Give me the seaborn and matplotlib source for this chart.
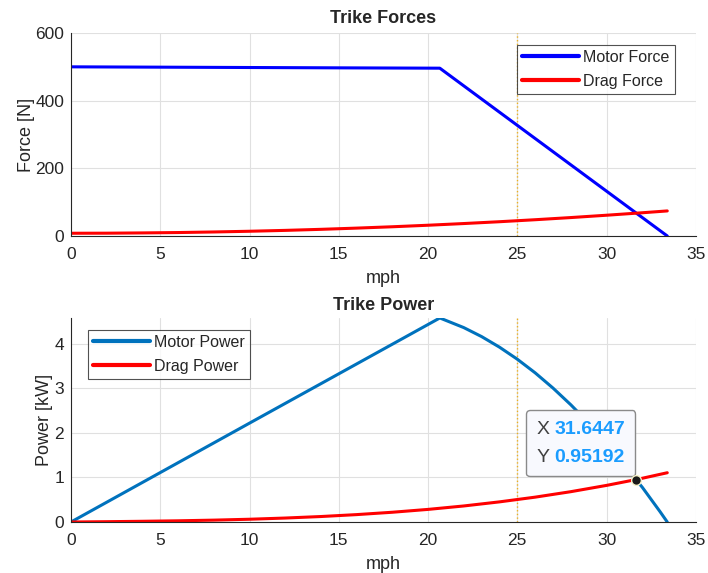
import matplotlib
matplotlib.use("Agg")
import matplotlib.pyplot as plt
import seaborn as sns
from matplotlib.offsetbox import AnnotationBbox, HPacker, TextArea, VPacker

# speeds in mph
motor_force_mph = [0, 5, 10, 15, 20.66, 33.4]
motor_force_n = [500, 499, 498, 497, 496, 0]

drag_mph = [0, 2, 4, 6, 8, 10, 12, 14, 16, 18, 20, 22, 24, 26, 28, 30, 31.6447, 32, 33.4]
drag_force_n = [8.0, 8.2, 9.0, 10.1, 11.8, 13.9, 16.5, 19.6, 23.2, 27.2, 31.7, 36.7,
                42.1, 48.0, 54.4, 61.3, 67.3, 68.6, 74.0]
drag_power_kw = [0, 0.007, 0.016, 0.027, 0.042, 0.062, 0.089, 0.123, 0.166, 0.219, 0.283,
                 0.360, 0.452, 0.558, 0.681, 0.822, 0.952, 0.982, 1.106]

motor_power_mph = [0, 10, 20.66, 22, 23, 24, 25, 26, 27, 28, 29, 30, 31, 31.6447, 32, 33, 33.4]
motor_power_kw = [0, 2.22, 4.581, 4.365, 4.163, 3.926, 3.655, 3.349, 3.007, 2.631, 2.221,
                  1.775, 1.295, 0.952, 0.780, 0.230, 0]

tip_x = 31.6447
tip_y = 0.95192
limit_mph = 25

sns.set_style("white")
plt.rcParams["font.family"] = ["Liberation Sans", "DejaVu Sans"]
txt = "#262626"

fig = plt.figure(figsize=(7.08, 5.73), dpi=100)
ax1 = fig.add_axes([0.1003, 0.5882, 0.8825, 0.3542])
ax2 = fig.add_axes([0.1003, 0.0890, 0.8825, 0.3560])

sns.lineplot(x=motor_force_mph, y=motor_force_n, ax=ax1, color="#0000ff", linewidth=2.2,
             label="Motor Force")
sns.lineplot(x=drag_mph, y=drag_force_n, ax=ax1, color="#ff0000", linewidth=2.2,
             label="Drag Force")

sns.lineplot(x=motor_power_mph, y=motor_power_kw, ax=ax2, color="#0072bd", linewidth=2.2,
             label="Motor Power")
sns.lineplot(x=drag_mph, y=drag_power_kw, ax=ax2, color="#ff0000", linewidth=2.2,
             label="Drag Power")

for ax in (ax1, ax2):
    ax.axvline(limit_mph, color="#edb120", linestyle=":", linewidth=1.0, zorder=1)
    ax.set_xlim(0, 35)
    ax.set_xticks(range(0, 36, 5))
    ax.grid(True, color="#e0e0e0", linewidth=0.8)
    ax.set_axisbelow(True)
    for s in ("top", "right"):
        ax.spines[s].set_visible(False)
    for s in ("left", "bottom"):
        ax.spines[s].set_color(txt)
        ax.spines[s].set_linewidth(0.8)
    ax.tick_params(direction="in", length=4, width=0.8, colors=txt, labelsize=12.5,
                   labelcolor=txt)
    ax.tick_params(axis="x", pad=8)
    ax.tick_params(axis="y", pad=5)
    ax.set_xlabel("mph", fontsize=13, color=txt, labelpad=6)

ax1.set_ylim(0, 600)
ax1.set_yticks([0, 200, 400, 600])
ax1.set_ylabel("Force [N]", fontsize=13, color=txt, labelpad=0)
ax1.set_title("Trike Forces", fontsize=13, fontweight="bold", pad=7)

ax2.set_ylim(0, 4.58)
ax2.set_yticks([0, 1, 2, 3, 4])
ax2.set_ylabel("Power [kW]", fontsize=13, color=txt, labelpad=1)
ax2.set_title("Trike Power", fontsize=13, fontweight="bold", pad=6)

leg_kw = dict(fontsize=11.5, frameon=True, fancybox=False, edgecolor="#262626",
              handlelength=3.6, borderpad=0.3, labelspacing=0.55, handletextpad=0.25,
              borderaxespad=0)
leg1 = ax1.legend(loc="upper right", bbox_to_anchor=(0.966, 0.94), **leg_kw)
leg1.get_frame().set_linewidth(0.8)
leg2 = ax2.legend(loc="upper left", bbox_to_anchor=(0.027, 0.94), **leg_kw)
leg2.get_frame().set_linewidth(0.8)
for leg in (leg1, leg2):
    for h in leg.get_lines():
        h.set_linewidth(3)

# data tip
ax2.plot(tip_x, tip_y, "o", color="#1a1a1a", markersize=7, markeredgecolor="#f5f0c8",
         markeredgewidth=1.0, zorder=6)
blue = "#1a9cff"
row1 = HPacker(children=[TextArea("X", textprops=dict(color="#404040", fontsize=14)),
                         TextArea("31.6447", textprops=dict(color=blue, fontsize=14,
                                                            fontweight="bold"))],
               sep=3, pad=0)
row2 = HPacker(children=[TextArea("Y", textprops=dict(color="#404040", fontsize=14)),
                         TextArea("0.95192", textprops=dict(color=blue, fontsize=14,
                                                            fontweight="bold"))],
               sep=3, pad=0)
box = VPacker(children=[row1, row2], sep=8, pad=0)
ab = AnnotationBbox(box, (tip_x, tip_y), xycoords="data", xybox=(-8, 10),
                    boxcoords="offset points", box_alignment=(1.0, 0.0),
                    frameon=True, pad=0.75,
                    bboxprops=dict(boxstyle="round,pad=0.75,rounding_size=0.25",
                                   facecolor="#f8f9fe", edgecolor="#8a8a8a", linewidth=1.0))
ab.set_zorder(5)
ax2.add_artist(ab)

fig.savefig("out.png", dpi=100)
